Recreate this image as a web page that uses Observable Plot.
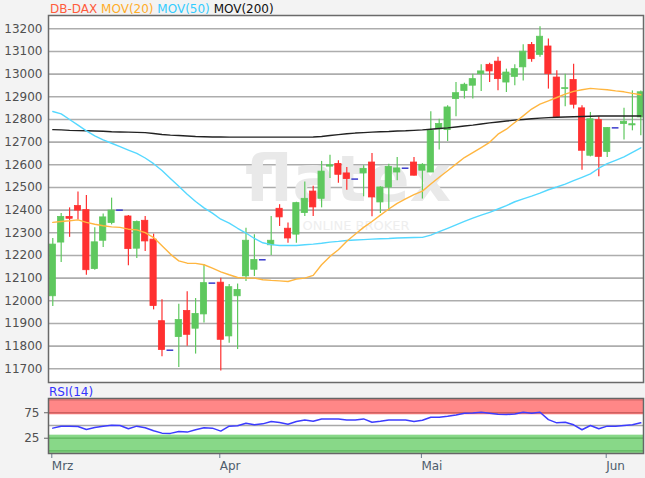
<!DOCTYPE html>
<html><head><meta charset="utf-8">
<script src="https://cdn.jsdelivr.net/npm/d3@7"></script>
<script src="https://cdn.jsdelivr.net/npm/@observablehq/plot@0.6"></script>
<style>
html,body{margin:0;padding:0;background:#f3f3f3;width:645px;height:478px;overflow:hidden;font-family:"DejaVu Sans",sans-serif;}
#wrap{position:relative;width:645px;height:478px;}
#main{position:absolute;left:0;top:0;}
#rsi{position:absolute;left:0;top:385px;}
#legend{position:absolute;left:50px;top:1px;font-size:12px;line-height:16px;white-space:pre;}
#rsiLabel{position:absolute;left:49px;top:385px;font-size:12px;line-height:14px;color:#3333ff;}
</style></head>
<body><div id="wrap">
<div id="main"></div>
<div id="rsi"></div>
<div id="legend"><span style="color:#ff5c3c">DB-DAX</span> <span style="color:#ffad2a">MOV(20)</span> <span style="color:#33ccff">MOV(50)</span> <span style="color:#111">MOV(200)</span></div>
<div id="rsiLabel">RSI(14)</div>
</div>
<script>
// ---- data ----
const openVals  = [12020,12257,12370,12418,12400,12140,12265,12343,12400,12372,12230,12353,12270,11910,11782,11840,11955,11877,11940,12078,12080,11843,12020,12108,12137,12181,12245,12406,12318,12292,12387,12482,12450,12592,12604,12562,12537,12562,12610,12434,12500,12566,12585,12610,12574,12566,12757,12753,12890,12926,12949,13000,13041,13055,12963,12988,13030,13129,13085,13122,12985,12934,12974,12849,12640,12797,12657,12763,12780,12774,12809];
const highVals  = [12275,12385,12410,12480,12465,12322,12383,12453,12400,12376,12352,12372,12294,12005,11782,11985,12040,12010,12160,12078,12100,12072,12074,12320,12291,12181,12372,12424,12343,12435,12524,12505,12615,12642,12618,12588,12537,12596,12650,12503,12603,12632,12585,12632,12605,12834,12801,12860,12963,12960,13000,13041,13048,13075,13022,13041,13130,13140,13209,13155,13015,13000,13044,12860,12831,12812,12765,12763,12850,12926,12926];
const lowVals   = [11975,12169,12280,12356,12113,12135,12235,12335,12400,12155,12187,12218,11960,11753,11782,11706,11800,11765,11902,12078,11690,11813,11785,12085,12107,12181,12200,12328,12254,12254,12372,12372,12410,12540,12519,12488,12537,12459,12371,12385,12397,12530,12585,12551,12449,12566,12665,12703,12812,12890,12890,12923,12963,12927,12919,12949,12970,13052,13074,12934,12806,12856,12846,12576,12635,12547,12632,12763,12709,12750,12728];
const closeVals = [12248,12370,12362,12398,12135,12258,12368,12398,12400,12228,12348,12262,11977,11783,11782,11915,11850,11942,12078,12078,11828,12060,12048,12265,12180,12181,12265,12368,12275,12431,12450,12412,12570,12598,12556,12537,12537,12582,12456,12500,12591,12584,12585,12552,12600,12750,12780,12853,12916,12953,12978,13012,13012,12978,13007,13022,13099,13066,13165,13000,12810,12938,12865,12662,12801,12635,12762,12763,12790,12779,12920];
const mov20  = [12346,12350,12353,12357,12346,12338,12331,12326,12324,12316,12313,12301,12279,12243,12206,12176,12166,12165,12159,12144,12128,12115,12103,12100,12100,12093,12090,12088,12085,12096,12100,12112,12159,12196,12225,12263,12294,12324,12350,12378,12405,12430,12450,12468,12484,12515,12545,12574,12603,12632,12654,12676,12699,12735,12757,12787,12816,12846,12868,12882,12897,12912,12924,12931,12937,12934,12931,12926,12922,12915,12909];
const mov50  = [12835,12825,12800,12775,12750,12728,12710,12695,12680,12665,12650,12630,12605,12575,12540,12505,12470,12438,12410,12387,12360,12343,12320,12299,12275,12256,12248,12244,12244,12244,12247,12250,12254,12259,12262,12266,12268,12270,12272,12274,12275,12277,12278,12279,12280,12290,12305,12320,12335,12350,12365,12378,12390,12405,12420,12437,12450,12462,12475,12490,12502,12515,12530,12545,12560,12585,12605,12620,12635,12655,12675];
const mov200 = [12755,12754,12752,12751,12750,12749,12748,12746,12745,12744,12743,12742,12738,12734,12731,12729,12727,12725,12724,12723,12723,12722,12722,12722,12722,12722,12722,12722,12722,12722,12722,12723,12725,12729,12733,12737,12740,12742,12744,12746,12747,12749,12750,12752,12754,12757,12760,12763,12767,12771,12775,12780,12785,12789,12793,12797,12800,12803,12806,12808,12810,12811,12812,12813,12814,12815,12815,12815,12815,12815,12815];
const rsi14  = [44.8,48.7,48.7,48,42,46,48.7,50.6,50,43.5,48.7,45.5,39.6,35,34.5,38.4,37,41.6,45.5,44.8,39,48.7,49.4,54.5,51.3,53.2,57.8,55.8,52.6,57.8,61,58.4,62.9,62.9,62.9,61,61,62.9,56.5,58.4,61,61,61,57.8,60.4,66.2,66.2,68.1,70.7,73.9,74.6,75.9,73.9,72,71.4,72.6,75.9,73.9,75.9,61.6,55.2,56.5,51.3,41.6,50,43.5,48.7,48.7,50,51.3,55.2];
const priceTicks = d3.range(11700, 13201, 100);
const rsiTicks = [25, 75];
const monthTickIdx = [0, 20, 44, 66];
const monthLabels = ["Mrz", "Apr", "Mai", "Jun"];
const rsiZones = [{lo: 71, hi: 103, fill: "#ff8787"}, {lo: -5, hi: 31, fill: "#88d888"}];
const rsiLevels = [{v: 100, c: "#e07070"}, {v: 75, c: "#cf6060"}, {v: 50, c: "#a8a8a8"}, {v: 25, c: "#5cb45c"}, {v: 0, c: "#5cb45c"}];

// ---- build ----
const candles = openVals.map((o, i) => ({i, o, h: highVals[i], l: lowVals[i], c: closeVals[i]}));
const bars = candles.filter(d => d.h !== d.l);
const up = bars.filter(d => d.c >= d.o);
const down = bars.filter(d => d.c < d.o);
const dojis = candles.filter(d => d.h === d.l);
const GREEN = "#5ec85e", RED = "#ff3030";
const xDomain = [-0.51, 70.32];
const hw = 0.37;

const main = Plot.plot({
  width: 645, height: 383,
  marginTop: 15, marginBottom: 1, marginLeft: 48, marginRight: 2,
  x: {domain: xDomain, axis: null},
  y: {domain: [11639.6, 13258.7]},
  style: {background: "transparent", fontFamily: "DejaVu Sans", fontSize: "12px", color: "#505050", overflow: "visible"},
  marks: [
    Plot.frame({fill: "white", stroke: null}),
    Plot.gridY(priceTicks, {stroke: "#adadad", strokeOpacity: 1, strokeWidth: 1.6}),
    Plot.axisY(priceTicks, {tickSize: 0, tickPadding: 6, fontSize: 12, label: null, fill: "#505050", tickFormat: d3.format("d")}),
    Plot.text(["flatex"], {frameAnchor: "middle", dx: 2, dy: -18, fontSize: 64, fontWeight: "bold", fill: "#e9e9e9", fontFamily: "DejaVu Sans"}),
    Plot.text(["ONLINE BROKER"], {frameAnchor: "middle", dx: 10, dy: 27, fontSize: 13, fill: "#eeeeee", fontFamily: "DejaVu Sans", style: "letter-spacing:9px"}),
    Plot.ruleX(up, {x: "i", y1: "l", y2: "h", stroke: GREEN, strokeWidth: 1.2, clip: true}),
    Plot.ruleX(down, {x: "i", y1: "l", y2: "h", stroke: RED, strokeWidth: 1.2, clip: true}),
    Plot.rect(up, {x1: d => d.i - hw, x2: d => d.i + hw, y1: "o", y2: "c", fill: GREEN, stroke: GREEN, strokeWidth: 0.8, clip: true}),
    Plot.rect(down, {x1: d => d.i - hw, x2: d => d.i + hw, y1: "o", y2: "c", fill: RED, stroke: RED, strokeWidth: 0.8, clip: true}),
    Plot.ruleY(dojis, {x1: d => d.i - 0.4, x2: d => d.i + 0.4, y: "c", stroke: "#3a3acc", strokeWidth: 1.5}),
    Plot.lineY(mov200, {x: (d, i) => i, y: d => d, stroke: "#222", strokeWidth: 1.4}),
    Plot.lineY(mov50, {x: (d, i) => i, y: d => d, stroke: "#55d8ff", strokeWidth: 1.4}),
    Plot.lineY(mov20, {x: (d, i) => i, y: d => d, stroke: "#ffb640", strokeWidth: 1.4}),
    Plot.frame({stroke: "#6a6a6a", strokeWidth: 1.5})
  ]
});
document.getElementById("main").appendChild(main);

const rsi = Plot.plot({
  width: 645, height: 93,
  marginTop: 13, marginBottom: 25, marginLeft: 48, marginRight: 2,
  x: {domain: xDomain},
  y: {domain: [-5, 103]},
  style: {background: "transparent", fontFamily: "DejaVu Sans", fontSize: "12px", color: "#505050", overflow: "visible"},
  marks: [
    Plot.frame({fill: "white", stroke: null}),
    Plot.rect(rsiZones, {y1: "lo", y2: "hi", fill: "fill"}),
    Plot.ruleY(rsiLevels, {y: "v", stroke: "c", strokeWidth: 1.3}),
    Plot.lineY(rsi14, {x: (d, i) => i, y: d => d, stroke: "#3c3cff", strokeWidth: 1.5}),
    Plot.axisY(rsiTicks, {tickSize: 4, tickPadding: 5, fontSize: 12, label: null, stroke: "#666", fill: "#505050"}),
    Plot.axisX(monthTickIdx, {tickSize: 5, tickPadding: 3, fontSize: 12, label: null, textAnchor: "start", dx: -1,
      tickFormat: d => monthLabels[monthTickIdx.indexOf(d)], stroke: "#6b7d8f", fill: "#4e5d6c"}),
    Plot.frame({stroke: "#666", strokeWidth: 1.5})
  ]
});
document.getElementById("rsi").appendChild(rsi);
</script>
</body></html>
